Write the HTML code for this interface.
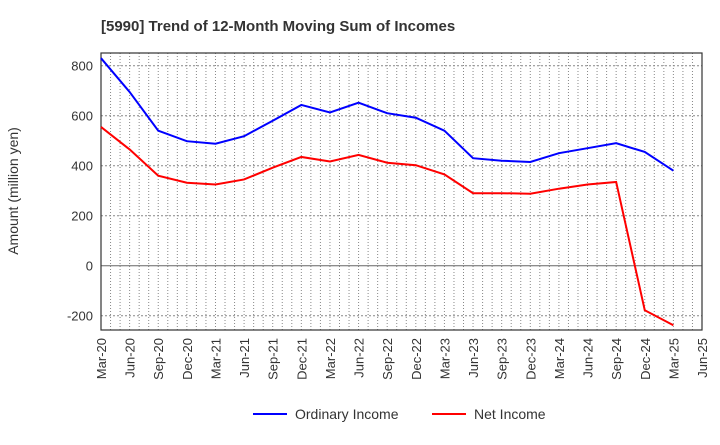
<!DOCTYPE html>
<html><head><meta charset="utf-8"><style>
body{margin:0;background:#fff;font-family:"Liberation Sans",sans-serif}
</style></head><body>
<svg width="720" height="440" xmlns="http://www.w3.org/2000/svg" font-family="Liberation Sans, sans-serif">
<text x="101" y="31" font-size="15" font-weight="bold" fill="#333">[5990]  Trend of 12-Month Moving Sum of Incomes</text>
<g id="grid"></g>
<g id="axes"></g>
<g id="series"></g>
<text transform="translate(18,191) rotate(-90)" text-anchor="middle" font-size="14" fill="#333">Amount (million yen)</text>
<g>
<line x1="253" y1="414" x2="287" y2="414" stroke="#0000ff" stroke-width="2"/>
<text x="295" y="419" font-size="14" fill="#333">Ordinary Income</text>
<line x1="432" y1="414" x2="466" y2="414" stroke="#ff0000" stroke-width="2"/>
<text x="474" y="419" font-size="14" fill="#333">Net Income</text>
</g>
</svg>
<script>
const categories=["Mar-20","Jun-20","Sep-20","Dec-20","Mar-21","Jun-21","Sep-21","Dec-21","Mar-22","Jun-22","Sep-22","Dec-22","Mar-23","Jun-23","Sep-23","Dec-23","Mar-24","Jun-24","Sep-24","Dec-24","Mar-25","Jun-25"];
const ordinaryIncome=[830,695,540,498,488,518,580,643,613,652,610,592,540,430,420,415,450,470,490,455,380];
const netIncome=[555,465,360,332,325,345,392,435,417,443,412,402,365,290,290,288,308,325,335,-178,-238];
const yTicks=[-200,0,200,400,600,800];
const NS="http://www.w3.org/2000/svg";
const L=101,R=702,T=53,B=330,Y0=265.7,K=0.25;
const step=(R-L)/(categories.length-1);
const xs=i=>L+i*step;
const ys=v=>Y0-v*K;
function mk(t,a,p){const e=document.createElementNS(NS,t);for(const k in a)e.setAttribute(k,a[k]);p.appendChild(e);return e;}
const grid=document.getElementById('grid'),axes=document.getElementById('axes'),ser=document.getElementById('series');
for(let m=1;m<(categories.length-1)*3;m++){const x=L+m*step/3;
const g=mk('line',{x1:x,y1:T,x2:x,y2:B,stroke:'#888','stroke-dasharray':'1,2','stroke-width':1},grid);
}
yTicks.forEach(v=>{const y=ys(v);
const g=mk('line',{x1:L,y1:y,x2:R,y2:y,stroke:v===0?'#666':'#888','stroke-dasharray':v===0?'':'2,2','stroke-width':1},grid);

const t=mk('text',{x:L-8,y:y+5,'text-anchor':'end','font-size':13,fill:'#333'},axes);t.textContent=v;
});
categories.forEach((c,i)=>{const x=xs(i);
const t=mk('text',{transform:`translate(${x+5},${B+8}) rotate(-90)`,'text-anchor':'end','font-size':13,fill:'#333'},axes);t.textContent=c;
});
const fr=mk('rect',{x:L,y:T,width:R-L,height:B-T,fill:'none',stroke:'#333','stroke-width':1.2},axes);

function line(d,col,name){const p=mk('polyline',{points:d.map((v,i)=>xs(i)+','+ys(v)).join(' '),fill:'none',stroke:col,'stroke-width':2},ser);
}
line(ordinaryIncome,'#0000ff','ordinary-income-line');
line(netIncome,'#ff0000','net-income-line');
</script>
</body></html>
